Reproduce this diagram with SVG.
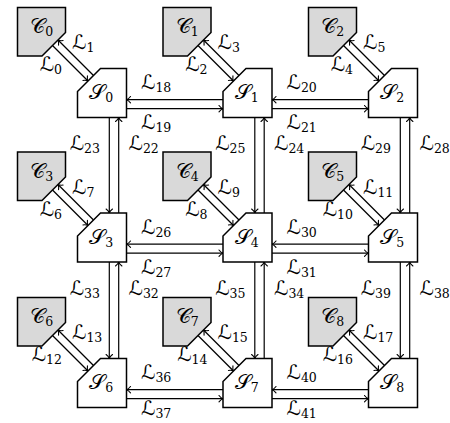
<svg xmlns="http://www.w3.org/2000/svg" width="450" height="423" viewBox="0 0 450 423">
<style>
.c{fill:#d9d9d9;stroke:#000;stroke-width:1.5;stroke-linejoin:miter}
.s{fill:#fff;stroke:#000;stroke-width:1.5;stroke-linejoin:miter}
.ln{stroke:#000;stroke-width:1.2;fill:none;marker-end:url(#ar)}
text{font-family:"DejaVu Serif","DejaVu Sans","Noto Sans",serif;font-size:20px;fill:#000}
.n{text-anchor:middle;font-size:21px}
.e{text-anchor:end}
tspan{font-size:12.5px}
</style>
<defs>
<marker id="ar" viewBox="-5 -4 6 8" refX="0" refY="0" markerWidth="6" markerHeight="8" markerUnits="userSpaceOnUse" orient="auto">
<path d="M-4,-3.2 C-2.6,-1.4 -1.2,-0.4 0,0 C-1.2,0.4 -2.6,1.4 -4,3.2" fill="none" stroke="#000" stroke-width="1.1" stroke-linecap="round"/>
</marker>
<path id="cs" d="M17.5,7.5 H65.5 V32.5 L42,56 H17.5 Z"/>
<path id="ss" d="M100.5,68.5 H126.5 V117.5 H77.5 V91.5 Z"/>
</defs>
<g id="connectors">
<g id="diag">
<g transform="translate(0,0)"><line class="ln" x1="52.5" y1="45.5" x2="88" y2="81"/><line class="ln" x1="93.5" y1="75.5" x2="58" y2="40"/><text class="e" x="62" y="71">ℒ<tspan dy="3">0</tspan></text><text x="72" y="49">ℒ<tspan dy="3">1</tspan></text></g>
<g transform="translate(145.5,0)"><line class="ln" x1="52.5" y1="45.5" x2="88" y2="81"/><line class="ln" x1="93.5" y1="75.5" x2="58" y2="40"/><text class="e" x="62" y="71">ℒ<tspan dy="3">2</tspan></text><text x="72" y="49">ℒ<tspan dy="3">3</tspan></text></g>
<g transform="translate(291,0)"><line class="ln" x1="52.5" y1="45.5" x2="88" y2="81"/><line class="ln" x1="93.5" y1="75.5" x2="58" y2="40"/><text class="e" x="62" y="71">ℒ<tspan dy="3">4</tspan></text><text x="72" y="49">ℒ<tspan dy="3">5</tspan></text></g>
<g transform="translate(0,144.5)"><line class="ln" x1="52.5" y1="45.5" x2="88" y2="81"/><line class="ln" x1="93.5" y1="75.5" x2="58" y2="40"/><text class="e" x="62" y="71">ℒ<tspan dy="3">6</tspan></text><text x="72" y="49">ℒ<tspan dy="3">7</tspan></text></g>
<g transform="translate(145.5,144.5)"><line class="ln" x1="52.5" y1="45.5" x2="88" y2="81"/><line class="ln" x1="93.5" y1="75.5" x2="58" y2="40"/><text class="e" x="62" y="71">ℒ<tspan dy="3">8</tspan></text><text x="72" y="49">ℒ<tspan dy="3">9</tspan></text></g>
<g transform="translate(291,144.5)"><line class="ln" x1="52.5" y1="45.5" x2="88" y2="81"/><line class="ln" x1="93.5" y1="75.5" x2="58" y2="40"/><text class="e" x="62" y="71">ℒ<tspan dy="3">10</tspan></text><text x="72" y="49">ℒ<tspan dy="3">11</tspan></text></g>
<g transform="translate(0,290)"><line class="ln" x1="52.5" y1="45.5" x2="88" y2="81"/><line class="ln" x1="93.5" y1="75.5" x2="58" y2="40"/><text class="e" x="62" y="71">ℒ<tspan dy="3">12</tspan></text><text x="72" y="49">ℒ<tspan dy="3">13</tspan></text></g>
<g transform="translate(145.5,290)"><line class="ln" x1="52.5" y1="45.5" x2="88" y2="81"/><line class="ln" x1="93.5" y1="75.5" x2="58" y2="40"/><text class="e" x="62" y="71">ℒ<tspan dy="3">14</tspan></text><text x="72" y="49">ℒ<tspan dy="3">15</tspan></text></g>
<g transform="translate(291,290)"><line class="ln" x1="52.5" y1="45.5" x2="88" y2="81"/><line class="ln" x1="93.5" y1="75.5" x2="58" y2="40"/><text class="e" x="62" y="71">ℒ<tspan dy="3">16</tspan></text><text x="72" y="49">ℒ<tspan dy="3">17</tspan></text></g>
</g>
<g id="horiz">
<line class="ln" x1="223" y1="99.7" x2="126.5" y2="99.7"/><line class="ln" x1="126.5" y1="108.7" x2="223" y2="108.7"/>
<text x="141" y="89">ℒ<tspan dy="3">18</tspan></text><text x="141" y="129">ℒ<tspan dy="3">19</tspan></text>
<line class="ln" x1="368.5" y1="99.7" x2="272" y2="99.7"/><line class="ln" x1="272" y1="108.7" x2="368.5" y2="108.7"/>
<text x="286.5" y="89">ℒ<tspan dy="3">20</tspan></text><text x="286.5" y="129">ℒ<tspan dy="3">21</tspan></text>
<line class="ln" x1="223" y1="244.2" x2="126.5" y2="244.2"/><line class="ln" x1="126.5" y1="253.2" x2="223" y2="253.2"/>
<text x="141" y="233.5">ℒ<tspan dy="3">26</tspan></text><text x="141" y="273.5">ℒ<tspan dy="3">27</tspan></text>
<line class="ln" x1="368.5" y1="244.2" x2="272" y2="244.2"/><line class="ln" x1="272" y1="253.2" x2="368.5" y2="253.2"/>
<text x="286.5" y="233.5">ℒ<tspan dy="3">30</tspan></text><text x="286.5" y="273.5">ℒ<tspan dy="3">31</tspan></text>
<line class="ln" x1="223" y1="389.7" x2="126.5" y2="389.7"/><line class="ln" x1="126.5" y1="398.7" x2="223" y2="398.7"/>
<text x="141" y="379">ℒ<tspan dy="3">36</tspan></text><text x="141" y="415">ℒ<tspan dy="3">37</tspan></text>
<line class="ln" x1="368.5" y1="389.7" x2="272" y2="389.7"/><line class="ln" x1="272" y1="398.7" x2="368.5" y2="398.7"/>
<text x="286.5" y="379">ℒ<tspan dy="3">40</tspan></text><text x="286.5" y="415">ℒ<tspan dy="3">41</tspan></text>
</g>
<g id="vert">
<line class="ln" x1="109.3" y1="117.5" x2="109.3" y2="213"/><line class="ln" x1="118.7" y1="213" x2="118.7" y2="117.5"/>
<text class="e" x="100" y="150">ℒ<tspan dy="3">23</tspan></text><text x="128.5" y="150">ℒ<tspan dy="3">22</tspan></text>
<line class="ln" x1="254.8" y1="117.5" x2="254.8" y2="213"/><line class="ln" x1="264.2" y1="213" x2="264.2" y2="117.5"/>
<text class="e" x="245.5" y="150">ℒ<tspan dy="3">25</tspan></text><text x="274" y="150">ℒ<tspan dy="3">24</tspan></text>
<line class="ln" x1="400.3" y1="117.5" x2="400.3" y2="213"/><line class="ln" x1="409.7" y1="213" x2="409.7" y2="117.5"/>
<text class="e" x="391" y="150">ℒ<tspan dy="3">29</tspan></text><text x="419.5" y="150">ℒ<tspan dy="3">28</tspan></text>
<line class="ln" x1="109.3" y1="262" x2="109.3" y2="358.5"/><line class="ln" x1="118.7" y1="358.5" x2="118.7" y2="262"/>
<text class="e" x="100" y="294.5">ℒ<tspan dy="3">33</tspan></text><text x="128.5" y="294.5">ℒ<tspan dy="3">32</tspan></text>
<line class="ln" x1="254.8" y1="262" x2="254.8" y2="358.5"/><line class="ln" x1="264.2" y1="358.5" x2="264.2" y2="262"/>
<text class="e" x="245.5" y="294.5">ℒ<tspan dy="3">35</tspan></text><text x="274" y="294.5">ℒ<tspan dy="3">34</tspan></text>
<line class="ln" x1="400.3" y1="262" x2="400.3" y2="358.5"/><line class="ln" x1="409.7" y1="358.5" x2="409.7" y2="262"/>
<text class="e" x="391" y="294.5">ℒ<tspan dy="3">39</tspan></text><text x="419.5" y="294.5">ℒ<tspan dy="3">38</tspan></text>
</g>
</g>
<g id="C0"><use href="#cs" class="c"/><text class="n" x="41.7" y="33">𝒞<tspan dy="3">0</tspan></text></g>
<g id="C1" transform="translate(145.5,0)"><use href="#cs" class="c"/><text class="n" x="41.7" y="33">𝒞<tspan dy="3">1</tspan></text></g>
<g id="C2" transform="translate(291,0)"><use href="#cs" class="c"/><text class="n" x="41.7" y="33">𝒞<tspan dy="3">2</tspan></text></g>
<g id="C3" transform="translate(0,144.5)"><use href="#cs" class="c"/><text class="n" x="41.7" y="33">𝒞<tspan dy="3">3</tspan></text></g>
<g id="C4" transform="translate(145.5,144.5)"><use href="#cs" class="c"/><text class="n" x="41.7" y="33">𝒞<tspan dy="3">4</tspan></text></g>
<g id="C5" transform="translate(291,144.5)"><use href="#cs" class="c"/><text class="n" x="41.7" y="33">𝒞<tspan dy="3">5</tspan></text></g>
<g id="C6" transform="translate(0,290)"><use href="#cs" class="c"/><text class="n" x="41.7" y="33">𝒞<tspan dy="3">6</tspan></text></g>
<g id="C7" transform="translate(145.5,290)"><use href="#cs" class="c"/><text class="n" x="41.7" y="33">𝒞<tspan dy="3">7</tspan></text></g>
<g id="C8" transform="translate(291,290)"><use href="#cs" class="c"/><text class="n" x="41.7" y="33">𝒞<tspan dy="3">8</tspan></text></g>
<g id="S0"><use href="#ss" class="s"/><text class="n" x="101.2" y="99">𝒮<tspan dy="3">0</tspan></text></g>
<g id="S1" transform="translate(145.5,0)"><use href="#ss" class="s"/><text class="n" x="101.2" y="99">𝒮<tspan dy="3">1</tspan></text></g>
<g id="S2" transform="translate(291,0)"><use href="#ss" class="s"/><text class="n" x="101.2" y="99">𝒮<tspan dy="3">2</tspan></text></g>
<g id="S3" transform="translate(0,144.5)"><use href="#ss" class="s"/><text class="n" x="101.2" y="99">𝒮<tspan dy="3">3</tspan></text></g>
<g id="S4" transform="translate(145.5,144.5)"><use href="#ss" class="s"/><text class="n" x="101.2" y="99">𝒮<tspan dy="3">4</tspan></text></g>
<g id="S5" transform="translate(291,144.5)"><use href="#ss" class="s"/><text class="n" x="101.2" y="99">𝒮<tspan dy="3">5</tspan></text></g>
<g id="S6" transform="translate(0,290)"><use href="#ss" class="s"/><text class="n" x="101.2" y="99">𝒮<tspan dy="3">6</tspan></text></g>
<g id="S7" transform="translate(145.5,290)"><use href="#ss" class="s"/><text class="n" x="101.2" y="99">𝒮<tspan dy="3">7</tspan></text></g>
<g id="S8" transform="translate(291,290)"><use href="#ss" class="s"/><text class="n" x="101.2" y="99">𝒮<tspan dy="3">8</tspan></text></g>
</svg>
